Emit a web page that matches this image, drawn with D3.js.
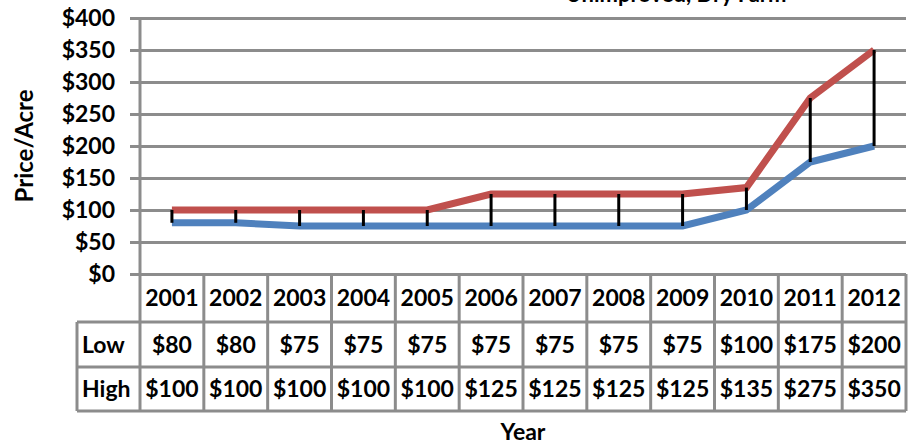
<!DOCTYPE html>
<html>
<head>
<meta charset="utf-8">
<script src="https://cdn.jsdelivr.net/npm/d3@7"></script>
<style>
  body { margin: 0; background: #fff; }
  text { font-family: Lato, "Open Sans", sans-serif; font-weight: bold; fill: #000; }
</style>
</head>
<body>
<svg id="chart" width="911" height="444"></svg>
<script>
// données
const years = ["2001", "2002", "2003", "2004", "2005", "2006", "2007", "2008", "2009", "2010", "2011", "2012"];
const low = [80, 80, 75, 75, 75, 75, 75, 75, 75, 100, 175, 200];
const high = [100, 100, 100, 100, 100, 125, 125, 125, 125, 135, 275, 350];
const yTicks = [0, 50, 100, 150, 200, 250, 300, 350, 400];
const rows = [{ name: "Low", values: low }, { name: "High", values: high }];

const svg = d3.select("#chart");
const plotL = 140, plotR = 906, plotT = 18, plotB = 274;
const rowH = [48, 45, 44];
const labelX = 77;
const grid = "#8c8c8c";

const x = d3.scaleBand().domain(years).range([plotL, plotR]);
const y = d3.scaleLinear().domain([0, 400]).range([plotB, plotT]);
const cx = d => x(d) + x.bandwidth() / 2;

// titre (coupé en haut, comme l'original)
svg.append("text")
  .attr("x", 676).attr("y", 2)
  .attr("text-anchor", "middle")
  .style("font-size", "22px")
  .text("Unimproved, Dry Farm");

// grille + axe Y
const yAxis = d3.axisLeft(y).tickValues(yTicks)
  .tickSize(-(plotR - plotL)).tickPadding(25)
  .tickFormat(d => "$" + d);
const ga = svg.append("g").attr("transform", `translate(${plotL},0)`).call(yAxis);
ga.select(".domain").remove();
ga.selectAll(".tick line").attr("stroke", grid).attr("stroke-width", 3).attr("x1", -10);
ga.selectAll(".tick text").style("font-size", "23px").attr("dy", "0.34em");

svg.append("line")
  .attr("x1", plotL).attr("x2", plotL).attr("y1", plotT).attr("y2", plotB)
  .attr("stroke", grid).attr("stroke-width", 3);

// tableau
const rowY = [plotB, plotB + rowH[0], plotB + rowH[0] + rowH[1], plotB + rowH[0] + rowH[1] + rowH[2]];
const tg = svg.append("g");
d3.range(years.length + 1).forEach(i => {
  const xx = plotL + i * x.bandwidth();
  tg.append("line").attr("x1", xx).attr("x2", xx).attr("y1", plotB).attr("y2", rowY[3])
    .attr("stroke", grid).attr("stroke-width", 3);
});
rowY.slice(1).forEach(yy => {
  tg.append("line").attr("x1", labelX).attr("x2", plotR).attr("y1", yy).attr("y2", yy)
    .attr("stroke", grid).attr("stroke-width", 3);
});
tg.append("line").attr("x1", labelX).attr("x2", labelX).attr("y1", rowY[1]).attr("y2", rowY[3])
  .attr("stroke", grid).attr("stroke-width", 3);

tg.selectAll(".yr").data(years).enter().append("text")
  .attr("x", cx).attr("y", (rowY[0] + rowY[1]) / 2).attr("dy", "0.35em")
  .attr("text-anchor", "middle").style("font-size", "23px")
  .text(d => d);

rows.forEach((r, ri) => {
  const yc = (rowY[ri + 1] + rowY[ri + 2]) / 2;
  tg.append("text").attr("x", labelX + 5).attr("y", yc).attr("dy", "0.35em")
    .style("font-size", "23px").text(r.name);
  tg.selectAll(".v" + ri).data(r.values).enter().append("text")
    .attr("x", (d, i) => cx(years[i])).attr("y", yc).attr("dy", "0.35em")
    .attr("text-anchor", "middle").style("font-size", "23px")
    .text(d => "$" + d);
});

// lignes
const line = d3.line().x((d, i) => cx(years[i])).y(d => y(d));
svg.append("path").datum(low).attr("d", line)
  .attr("fill", "none").attr("stroke", "#4f81bd").attr("stroke-width", 7);
svg.append("path").datum(high).attr("d", line)
  .attr("fill", "none").attr("stroke", "#c0504d").attr("stroke-width", 7);

// barres haut-bas
svg.selectAll(".hl").data(years).enter().append("line")
  .attr("x1", cx).attr("x2", cx)
  .attr("y1", (d, i) => y(low[i])).attr("y2", (d, i) => y(high[i]))
  .attr("stroke", "#000").attr("stroke-width", 3);

// titres des axes
svg.append("text")
  .attr("transform", `translate(33,${(plotT + plotB) / 2}) rotate(-90)`)
  .attr("text-anchor", "middle").style("font-size", "24px")
  .text("Price/Acre");
svg.append("text")
  .attr("x", (plotL + plotR) / 2).attr("y", 440)
  .attr("text-anchor", "middle").style("font-size", "23px")
  .text("Year");
</script>
</body>
</html>
